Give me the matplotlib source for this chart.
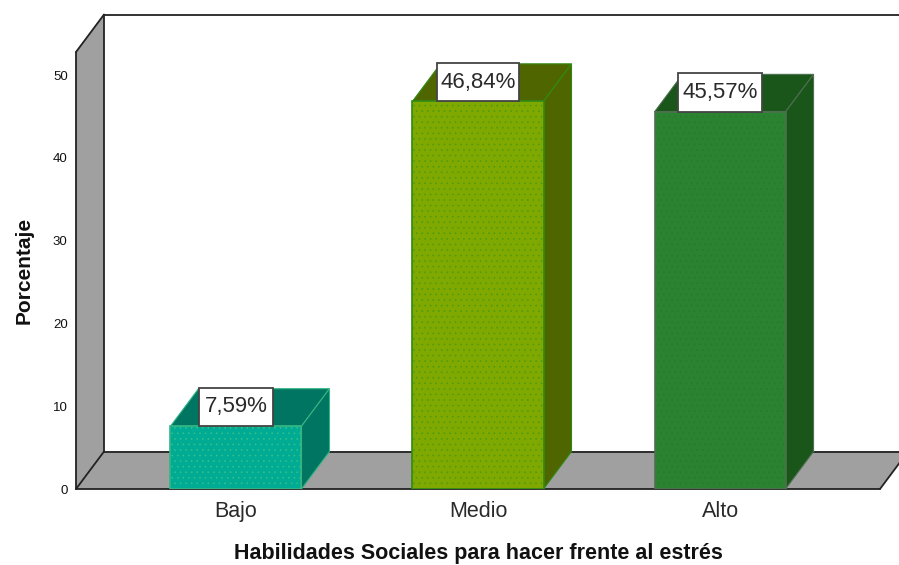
#!/usr/bin/env python3
"""Pseudo-3D bar chart of Habilidades Sociales percentages."""
import numpy as np
import matplotlib
matplotlib.use('Agg')
import matplotlib.pyplot as plt
from matplotlib.patches import Polygon, Rectangle

plt.rcParams['font.family'] = ['Liberation Sans', 'DejaVu Sans']
plt.rcParams['hatch.linewidth'] = 0.4

categories = ['Bajo', 'Medio', 'Alto']
values = [7.59, 46.84, 45.57]
value_labels = ['7,59%', '46,84%', '45,57%']
y_ticks = [0, 10, 20, 30, 40, 50]
front_colors = ['#00AB94', '#7FA800', '#2B8230']
side_colors = ['#007561', '#4F6600', '#1A5519']
edge_colors = ['#35B583', '#2F8A14', '#4F6F4F']
dot_colors = ['#3CC08A', '#4F9A10', '#277A2C']
box_widths = [74 / 242, 82 / 242, 84 / 242]

W, H = 899, 565
fig = plt.figure(figsize=(W / 100, H / 100), dpi=100, facecolor='white')
ax = fig.add_axes([76 / W, 1 - 489 / H, (880 - 76) / W, (489 - 52) / H])

xmin, xmax = -0.661, 2.661
ymax = 52.8
ax.set_xlim(xmin, xmax)
ax.set_ylim(0, ymax)

# depth of the fake 3D box, in data units
dx = 28 / 242
dy = 37.5 / 8.28
bar_w = 131 / 242


def poly(pts, fc, ec='none', lw=0, z=1):
    ax.add_patch(Polygon(pts, closed=True, facecolor=fc, edgecolor=ec,
                         linewidth=lw, zorder=z, clip_on=False))


# walls and floor
poly([(xmin, 0), (xmin + dx, dy), (xmin + dx, ymax + dy), (xmin, ymax)], '#A0A0A0')
poly([(xmin, 0), (xmin + dx, dy), (xmax + dx, dy), (xmax, 0)], '#A0A0A0')

line = dict(color='#222222', lw=1.3, zorder=2, clip_on=False, solid_capstyle='round')
ax.plot([xmin + dx, xmax + dx + 0.2], [ymax + dy, ymax + dy], **line)
ax.plot([xmin + dx, xmin + dx], [dy, ymax + dy], **line)
ax.plot([xmin, xmin], [0, ymax], **line)
ax.plot([xmin, xmin + dx], [ymax, ymax + dy], **line)
ax.plot([xmin, xmin + dx], [0, dy], **line)
ax.plot([xmin + dx, xmax + dx], [dy, dy], **line)
ax.plot([xmin, xmax], [0, 0], **line)
ax.plot([xmax, xmax + dx], [0, dy], **line)

# bars
x = np.arange(len(categories))
for i, v in enumerate(values):
    l, r = x[i] - bar_w / 2, x[i] + bar_w / 2
    poly([(l, v), (l + dx, v + dy), (r + dx, v + dy), (r, v)],
         side_colors[i], edge_colors[i], 0.8, 3)
    poly([(r, 0), (r + dx, dy), (r + dx, v + dy), (r, v)],
         side_colors[i], edge_colors[i], 0.8, 3)

ax.bar(x, values, width=bar_w, color=front_colors, edgecolor=dot_colors,
       hatch='...', linewidth=0, zorder=4)
ax.bar(x, values, width=bar_w, color='none', edgecolor=edge_colors,
       linewidth=1.2, zorder=5)

# value boxes sit on the front top edge of each bar
box_h = 38.5 / 8.28
for i, v in enumerate(values):
    ax.add_patch(Rectangle((x[i] - box_widths[i] / 2, v), box_widths[i], box_h,
                           facecolor='white', edgecolor='#444444', linewidth=1.3,
                           zorder=6))
    ax.text(x[i], v + box_h / 2, value_labels[i], ha='center', va='center',
            fontsize=16, color='#2A2A2A', zorder=7)

for s in ax.spines.values():
    s.set_visible(False)
ax.patch.set_visible(False)

ax.set_xticks(x)
ax.set_xticklabels(categories, fontsize=15.5, color='#2A2A2A')
ax.set_yticks(y_ticks)
ax.set_yticklabels([str(t) for t in y_ticks], fontsize=9.5, color='#111111')
ax.tick_params(axis='both', length=0)
ax.tick_params(axis='x', pad=8.5)
ax.tick_params(axis='y', pad=6)
ax.set_xlabel('Habilidades Sociales para hacer frente al estrés',
              fontsize=15.5, fontweight='bold', color='#111111', labelpad=15)
ax.set_ylabel('Porcentaje', fontsize=15, fontweight='bold', color='#111111',
              labelpad=14)

fig.savefig('out.png', dpi=100)
